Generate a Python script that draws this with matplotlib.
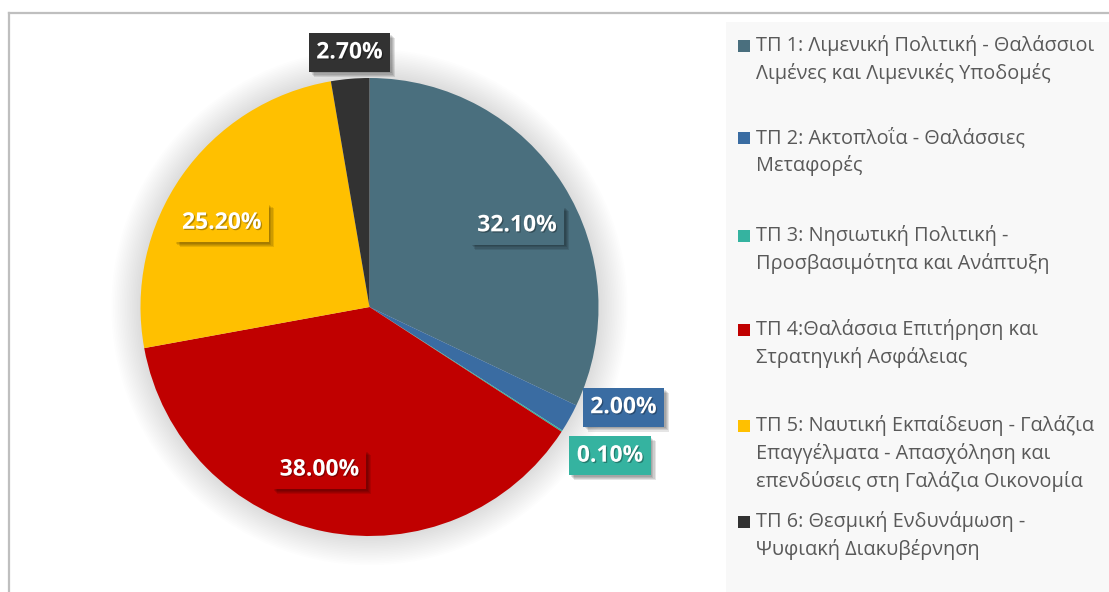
import numpy as np
import matplotlib
matplotlib.use("Agg")
import matplotlib.pyplot as plt
from matplotlib.patches import Circle, Rectangle
from matplotlib.lines import Line2D
import matplotlib.patheffects as pe

plt.rcParams['font.family'] = ['Open Sans', 'DejaVu Sans']

# ---- data ----
categories = [
    "ΤΠ 1: Λιμενική Πολιτική - Θαλάσσιοι\nΛιμένες και Λιμενικές Υποδομές",
    "ΤΠ 2: Ακτοπλοΐα - Θαλάσσιες\nΜεταφορές",
    "ΤΠ 3: Νησιωτική Πολιτική -\nΠροσβασιμότητα και Ανάπτυξη",
    "ΤΠ 4:Θαλάσσια Επιτήρηση και\nΣτρατηγική Ασφάλειας",
    "ΤΠ 5: Ναυτική Εκπαίδευση - Γαλάζια\nΕπαγγέλματα - Απασχόληση και\nεπενδύσεις στη Γαλάζια Οικονομία",
    "ΤΠ 6: Θεσμική Ενδυνάμωση -\nΨυφιακή Διακυβέρνηση",
]
shares = [32.10, 2.00, 0.10, 38.00, 25.20, 2.70]
colors = ["#4A6F7E", "#3A6CA2", "#35B3A0", "#C00000", "#FFC000", "#323232"]

# label placement: (radius factor, angular shift in degrees)
label_pos = [(0.736, -3.3), (1.192, 7.5), (1.235, 1.1),
             (0.743, -5.8), (0.743, 5.3), (1.115, -0.35)]
# legend entry tops (pixels inside legend panel) and line pitch
legend_tops = [24, 116, 214, 308, 404, 500]
line_pitch = 27.5

W, H = 1109, 592
fig = plt.figure(figsize=(W / 100, H / 100), dpi=100)
fig.patch.set_facecolor("white")

# chart frame
fc = "#BFBFBF"
fig.add_artist(Line2D([9 / W, 9 / W], [0, (H - 12.5) / H], transform=fig.transFigure,
                      color=fc, lw=1.6))
fig.add_artist(Line2D([9 / W, 1], [(H - 12.5) / H, (H - 12.5) / H], transform=fig.transFigure,
                      color=fc, lw=1.6))

# ---- pie ----
R = 229.0
cx, cy = 369.5, H - 307.0
xr, yr = 1.3, 1.24
ax = fig.add_axes([(cx - xr * R) / W, (cy - yr * R) / H, 2 * xr * R / W, 2 * yr * R / H])

# soft glow behind the pie
for i in range(18):
    ax.add_patch(Circle((0, 0), 1.0 + 0.0075 * i, facecolor="black", alpha=0.008,
                        edgecolor="none", zorder=0))

wedges, _ = ax.pie(shares, colors=colors, startangle=90, counterclock=False,
                   wedgeprops=dict(linewidth=0, edgecolor="none"), radius=1.0)
for w in wedges:
    w.set_zorder(2)

ax.set_xlim(-xr, xr)
ax.set_ylim(-yr, yr)
ax.set_aspect("equal")
ax.axis("off")

box_shadow = [pe.SimplePatchShadow(offset=(o, -o), shadow_rgbFace="black", alpha=0.10)
              for o in (1.2, 2.0, 2.8, 3.6)] + [pe.Normal()]
text_shadow = [pe.SimplePatchShadow(offset=(0.9, -0.9), shadow_rgbFace="black", alpha=0.3),
               pe.Normal()]

for w, val, col, (rf, dth) in zip(wedges, shares, colors, label_pos):
    mid = np.deg2rad((w.theta1 + w.theta2) / 2 + dth)
    x, y = rf * np.cos(mid), rf * np.sin(mid)
    t = ax.text(x, y, f"{val:.2f}%", ha="center", va="center", color="white",
                fontsize=16.5, fontweight="bold", zorder=5,
                bbox=dict(boxstyle="square,pad=0.32", facecolor=col, edgecolor="none"))
    t.set_path_effects(text_shadow)
    t.get_bbox_patch().set_path_effects(box_shadow)

# ---- legend panel ----
lx0, ly0 = 726, 22
lax = fig.add_axes([lx0 / W, 0, (W - lx0) / W, (H - ly0) / H])
lax.set_xlim(0, W - lx0)
lax.set_ylim(H - ly0, 0)
lax.set_facecolor("#F8F8F8")
for s in lax.spines.values():
    s.set_visible(False)
lax.set_xticks([])
lax.set_yticks([])

for label, col, top in zip(categories, colors, legend_tops):
    lax.add_patch(Rectangle((12, top - 6), 12, 12, facecolor=col, edgecolor="none"))
    for k, line in enumerate(label.split("\n")):
        lax.text(30, top + k * line_pitch, line, ha="left", va="center",
                 fontsize=14.3, color="#595959")

fig.savefig("out.png", dpi=100)
